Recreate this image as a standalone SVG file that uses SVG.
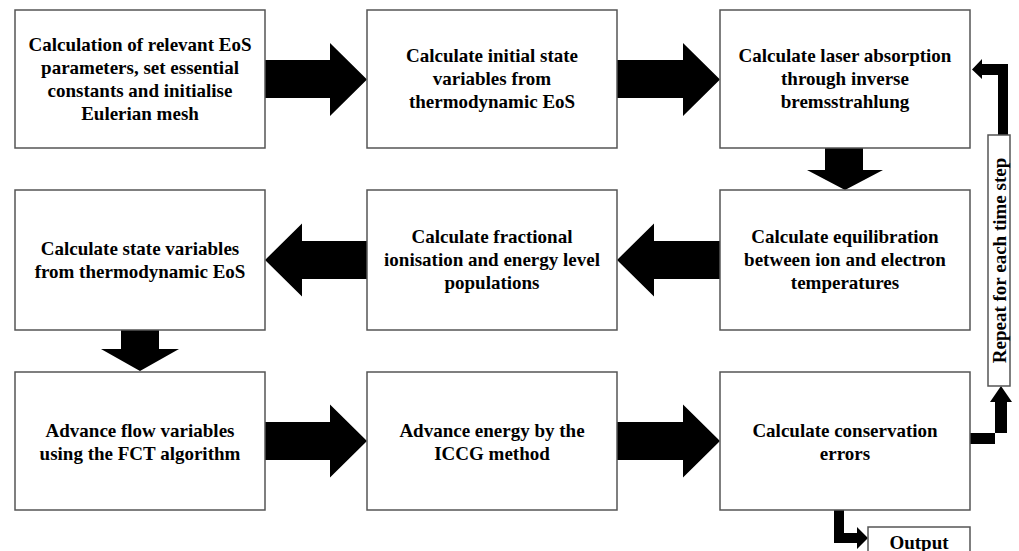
<svg xmlns="http://www.w3.org/2000/svg" width="1019" height="551" viewBox="0 0 1019 551">
<style>
.box{fill:#ffffff;stroke:#555555;stroke-width:1.5}
.t{font-family:"Liberation Serif","Times New Roman",serif;font-weight:bold;font-size:19px;fill:#000000;text-anchor:middle}
.arr{fill:#000000;stroke:none}
</style>
<rect x="0" y="0" width="1019" height="551" fill="#ffffff"/>
<g id="connectors">
<polygon class="arr" points="265,60 330,60 330,43 367,79.5 330,116 330,98 265,98"/>
<polygon class="arr" points="617,60 683,60 683,43 720,79.5 683,116 683,98 617,98"/>
<polygon class="arr" points="825,148 863,148 863,170 883,170 845,190 807,170 825,170"/>
<polygon class="arr" points="720,241 654,241 654,223.5 617,260 654,296.5 654,279 720,279"/>
<polygon class="arr" points="367,241 302,241 302,223.5 265,260 302,296.5 302,279 367,279"/>
<polygon class="arr" points="121,330 159,330 159,349 179,349 140,371 101,349 121,349"/>
<polygon class="arr" points="265,422 330,422 330,404.5 367,441 330,477.5 330,460 265,460"/>
<polygon class="arr" points="617,422 683,422 683,404.5 720,441 683,477.5 683,460 617,460"/>
<polygon class="arr" points="970,433 1007,433 1007,402 1012,402 1001,386 990,402 995,402 995,444 970,444"/>
<polygon class="arr" points="998,135 998,75 982,75 982,79 972,69.5 982,59 982,64 1008,64 1008,135"/>
<polygon class="arr" points="834,510 844,510 844,533 857,533 857,527 868,538 857,549 857,543 834,543"/>
</g>
<g id="n1">
<rect class="box" x="15" y="10" width="250" height="138"/>
<text class="t"><tspan x="140" y="51">Calculation of relevant EoS</tspan><tspan x="140" y="74">parameters, set essential</tspan><tspan x="140" y="97">constants and initialise</tspan><tspan x="140" y="120">Eulerian mesh</tspan></text>
</g>
<g id="n2">
<rect class="box" x="367" y="10" width="250" height="138"/>
<text class="t"><tspan x="492" y="62">Calculate initial state</tspan><tspan x="492" y="85">variables from</tspan><tspan x="492" y="108">thermodynamic EoS</tspan></text>
</g>
<g id="n3">
<rect class="box" x="720" y="10" width="250" height="138"/>
<text class="t"><tspan x="845" y="62">Calculate laser absorption</tspan><tspan x="845" y="85">through inverse</tspan><tspan x="845" y="108">bremsstrahlung</tspan></text>
</g>
<g id="n4">
<rect class="box" x="15" y="190" width="250" height="140"/>
<text class="t"><tspan x="140" y="255">Calculate state variables</tspan><tspan x="140" y="278">from thermodynamic EoS</tspan></text>
</g>
<g id="n5">
<rect class="box" x="367" y="190" width="250" height="140"/>
<text class="t"><tspan x="492" y="243">Calculate fractional</tspan><tspan x="492" y="266">ionisation and energy level</tspan><tspan x="492" y="289">populations</tspan></text>
</g>
<g id="n6">
<rect class="box" x="720" y="190" width="250" height="140"/>
<text class="t"><tspan x="845" y="243">Calculate equilibration</tspan><tspan x="845" y="266">between ion and electron</tspan><tspan x="845" y="289">temperatures</tspan></text>
</g>
<g id="n7">
<rect class="box" x="15" y="372" width="250" height="138"/>
<text class="t"><tspan x="140" y="437">Advance flow variables</tspan><tspan x="140" y="460">using the FCT algorithm</tspan></text>
</g>
<g id="n8">
<rect class="box" x="367" y="372" width="250" height="138"/>
<text class="t"><tspan x="492" y="437">Advance energy by the</tspan><tspan x="492" y="460">ICCG method</tspan></text>
</g>
<g id="n9">
<rect class="box" x="720" y="372" width="250" height="138"/>
<text class="t"><tspan x="845" y="437">Calculate conservation</tspan><tspan x="845" y="460">errors</tspan></text>
</g>
<g id="n10">
<rect class="box" x="988" y="135" width="22" height="251"/>
<text class="t" transform="translate(1005.5,260.5) rotate(-90)" x="0" y="0">Repeat for each time step</text>
</g>
<g id="n11">
<rect class="box" x="868" y="527" width="102" height="30"/>
<text class="t" x="919" y="549">Output</text>
</g>
</svg>
